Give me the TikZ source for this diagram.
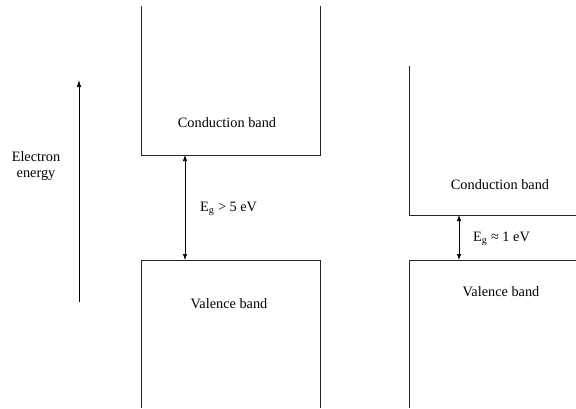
\documentclass[tikz,border=0pt]{standalone}
\usepackage{fontspec}
\setmainfont{Liberation Serif}
\usetikzlibrary{arrows.meta}
\begin{document}
\begin{tikzpicture}[x=1pt,y=-1pt,
  band/.style={draw=black!85,line width=0.7pt},
  gap/.style={draw=black,line width=0.7pt,{Latex[length=6pt,width=4.5pt]}-{Latex[length=6pt,width=4.5pt]}},
  lbl/.style={font=\fontsize{14.3}{16}\selectfont,inner sep=0pt,align=center}]
\useasboundingbox (0,0) rectangle (576,408);

% energy axis
\coordinate (axB) at (79,302);
\coordinate (axT) at (79,80);
\draw[line width=0.7pt,-{Latex[length=7pt,width=4.5pt]}] (axB) -- (axT);
\node[lbl] (energy) at (36,166) {Electron\\energy};

% insulator: wide gap
\coordinate (cL1) at (141,6);
\coordinate (cL2) at (141,155);
\coordinate (cR1) at (320,6);
\coordinate (cR2) at (320,155);
\draw[band] (cL1) -- (cL2) -- (cR2) -- (cR1);
\coordinate (vL1) at (141,408);
\coordinate (vL2) at (141,260);
\coordinate (vR1) at (320,408);
\coordinate (vR2) at (320,260);
\draw[band] (vL1) -- (vL2) -- (vR2) -- (vR1);
\node[lbl] (cb1) at (227,123) {Conduction band};
\node[lbl] (vb1) at (229,304) {Valence band};
\coordinate (g1t) at (185,155);
\coordinate (g1b) at (185,260);
\draw[gap] (g1t) -- (g1b);
\node[lbl,anchor=west] (eg1) at (200,209) {E\textsubscript{g} > 5 eV};

% semiconductor: narrow gap
\coordinate (cS1) at (409,66);
\coordinate (cS2) at (409,215);
\coordinate (cS3) at (576,215);
\draw[band] (cS1) -- (cS2) -- (cS3);
\coordinate (vS1) at (409,408);
\coordinate (vS2) at (409,260);
\coordinate (vS3) at (576,260);
\draw[band] (vS1) -- (vS2) -- (vS3);
\node[lbl] (cb2) at (500,185) {Conduction band};
\node[lbl] (vb2) at (501,292) {Valence band};
\coordinate (g2t) at (459,215);
\coordinate (g2b) at (459,260);
\draw[gap] (g2t) -- (g2b);
\node[lbl,anchor=west] (eg2) at (473,239) {E\textsubscript{g} ≈ 1 eV};
\end{tikzpicture}
\end{document}
